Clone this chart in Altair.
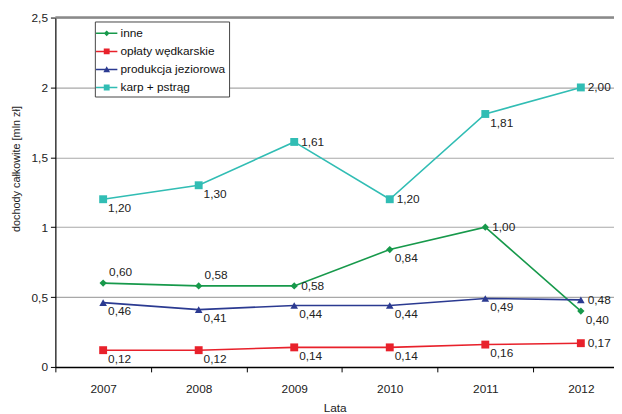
import altair as alt
import pandas as pd

YEARS = [2007, 2008, 2009, 2010, 2011, 2012]
SERIES = ["inne", "opłaty wędkarskie", "produkcja jeziorowa", "karp + pstrąg"]
INNE = [0.60, 0.58, 0.58, 0.84, 1.00, 0.40]
OPLATY = [0.12, 0.12, 0.14, 0.14, 0.16, 0.17]
PRODUKCJA = [0.46, 0.41, 0.44, 0.44, 0.49, 0.48]
KARP = [1.20, 1.30, 1.61, 1.20, 1.81, 2.00]
Y_TICKS = [0, 0.5, 1, 1.5, 2, 2.5]

COLORS = ["#17994b", "#e8212b", "#2b3a91", "#31bdb4"]
FONT = "Liberation Sans, Arial, sans-serif"

# label placement per point (style only)
PLACE = {
    "inne": ["above", "above", "right", "below", "right", "below"],
    "opłaty wędkarskie": ["below", "below", "below", "below", "below", "right"],
    "produkcja jeziorowa": ["below", "below", "below", "below", "below", "right"],
    "karp + pstrąg": ["below", "below", "right", "right", "below", "right"],
}

rows = []
for k, (name, vals) in enumerate(zip(SERIES, [INNE, OPLATY, PRODUKCJA, KARP])):
    for i, (yr, v) in enumerate(zip(YEARS, vals)):
        rows.append({"year": yr, "series": name, "k": k, "value": v, "place": PLACE[name][i]})
df = pd.DataFrame(rows)

BAND = 96.8
X_MIN = YEARS[0] - 0.5
X_MAX = X_MIN + 566 / BAND

x_enc = alt.X(
    "year:Q",
    scale=alt.Scale(domain=[X_MIN, X_MAX], nice=False, zero=False),
    axis=alt.Axis(
        values=[y - 0.5 for y in YEARS],
        labelExpr="format(datum.value + 0.5, 'd')",
        labelOffset=BAND / 2,
        labelFlush=False,
        labelOverlap=False,
        grid=False,
        tickSize=5,
        tickColor="black",
        domainColor="black",
        domainWidth=1.5,
        labelPadding=12,
        labelFontSize=12,
        labelColor="#222",
        title="Lata",
        titleFontSize=12,
        titleFontWeight="normal",
        titleColor="#222",
        titlePadding=8,
    ),
)
y_enc = alt.Y(
    "value:Q",
    scale=alt.Scale(domain=[0, 2.5], nice=False),
    axis=alt.Axis(
        values=Y_TICKS,
        labelExpr="replace(format(datum.value, '~g'), '.', ',')",
        grid=True,
        gridColor="#a8a8a8",
        gridWidth=1.1,
        tickSize=5,
        tickColor="black",
        domainColor="black",
        domainWidth=1.2,
        labelFontSize=12,
        labelColor="#222",
        labelPadding=3,
        title="dochody całkowite [mln zł]",
        titleFontSize=11,
        titleFontWeight="normal",
        titleColor="#222",
        titleX=-39,
        titleY=153,
        titleAngle=270,
        titleAlign="center",
        titleBaseline="middle",
    ),
)
paint_scale = alt.Scale(domain=list(range(len(SERIES))), range=COLORS)

base = alt.Chart(df).encode(x=x_enc, y=y_enc)
stroke_enc = alt.Stroke("k:N", scale=paint_scale, legend=None)
fill_enc = alt.Fill("k:N", scale=paint_scale, legend=None)

top_rule = alt.Chart(pd.DataFrame({"v": [Y_TICKS[-1]]})).mark_rule(
    color="#8a8a8a", strokeWidth=2.5
).encode(y=alt.Y("v:Q", scale=alt.Scale(domain=[0, 2.5], nice=False)))

lines = base.mark_line(strokeWidth=1.6).encode(stroke=stroke_enc)

pts_d = base.transform_filter("datum.series == 'inne'").mark_point(
    filled=True, shape="diamond", size=55, opacity=1
).encode(fill=fill_enc)
pts_s = base.transform_filter(
    "datum.series == 'opłaty wędkarskie' || datum.series == 'karp + pstrąg'"
).mark_point(filled=True, shape="square", size=64, opacity=1).encode(fill=fill_enc)
pts_t = base.transform_filter("datum.series == 'produkcja jeziorowa'").mark_point(
    filled=True, shape="triangle-up", size=60, opacity=1
).encode(fill=fill_enc)

lbl = "replace(format(datum.value, '.2f'), '.', ',')"
txt_kw = dict(align="left", font=FONT, fontSize=12, color="#222", baseline="middle")
t_right = base.transform_filter("datum.place == 'right'").transform_calculate(
    lbl=lbl
).mark_text(dx=7, dy=0, **txt_kw).encode(text="lbl:N")
t_below = base.transform_filter("datum.place == 'below'").transform_calculate(
    lbl=lbl
).mark_text(dx=5, dy=9, **txt_kw).encode(text="lbl:N")
t_above = base.transform_filter("datum.place == 'above'").transform_calculate(
    lbl=lbl
).mark_text(dx=6, dy=-11, **txt_kw).encode(text="lbl:N")

LINE = "M-1.2,-0.085H1.2V0.085H-1.2Z"
PATHS = [
    LINE + "M0,-0.33L0.33,0L0,0.33L-0.33,0Z",
    LINE + "M-0.33,-0.33H0.33V0.33H-0.33Z",
    LINE + "M0,-0.36L0.38,0.3H-0.38Z",
    LINE + "M-0.33,-0.33H0.33V0.33H-0.33Z",
]
leg = alt.Legend(
    orient="none",
    legendX=40,
    legendY=4,
    title=None,
    padding=3,
    rowPadding=3.3,
    symbolSize=324,
    symbolStrokeWidth=0,
    symbolOpacity=1,
    labelFont=FONT,
    labelFontSize=12,
    labelColor="#111",
    labelOffset=5,
    labelExpr="datum.label + '          '",
    strokeColor="#444",
    fillColor="white",
)
legend_layer = (
    alt.Chart(df)
    .transform_calculate(value="-1")
    .mark_point(filled=True, size=324, clip=True, opacity=1)
    .encode(
        x=x_enc,
        y=y_enc,
        size=alt.value(324),
        color=alt.Color("series:N", scale=alt.Scale(domain=SERIES, range=COLORS), legend=leg),
        shape=alt.Shape("series:N", scale=alt.Scale(domain=SERIES, range=PATHS), legend=leg),
    )
)

chart = (
    alt.layer(top_rule, lines, pts_d, pts_s, pts_t, t_right, t_below, t_above, legend_layer)
    .properties(
        width=566,
        height=354,
        autosize=alt.AutoSizeParams(type="none"),
        padding={"left": 48, "top": 7, "right": 0, "bottom": 45},
    )
    .configure(font=FONT, background="white")
    .configure_view(stroke=None)
    .configure_legend(symbolSize=324)
)
chart.save("out.html", embed_options={"renderer": "svg", "actions": False})
